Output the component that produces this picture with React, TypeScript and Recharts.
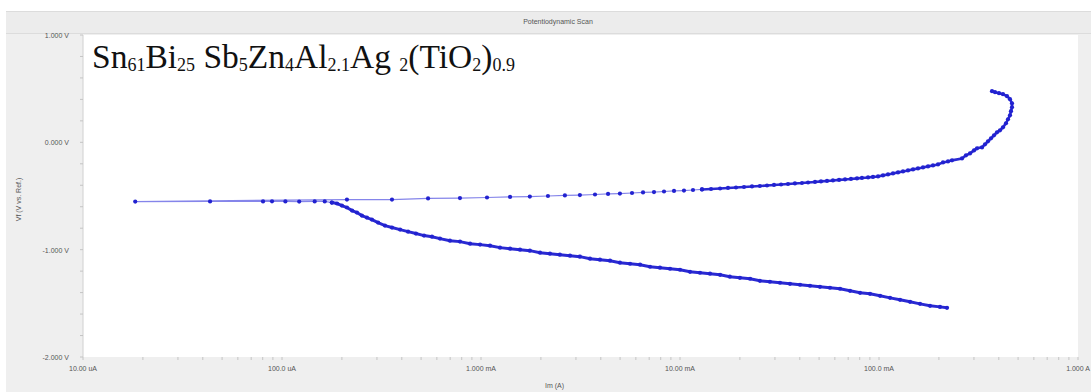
import React from 'react';
import { ScatterChart, Scatter, XAxis, YAxis, CartesianGrid } from 'recharts';

// cathodic branch, in scan order (high current -> Ecorr)
const cathodicCurrent = [
  0.2197, 0.2025, 0.1804, 0.1607, 0.1432, 0.1275, 0.1136, 0.1012, 0.0901, 0.0803,
  0.0715, 0.0637, 0.0567, 0.0505, 0.045, 0.0401, 0.0357, 0.0318, 0.0283, 0.0252,
  0.0225, 0.02, 0.0178, 0.0159, 0.01415, 0.0126, 0.01123, 0.01, 0.00891, 0.00793,
  0.00707, 0.0063, 0.00561, 0.00499, 0.00445, 0.00396, 0.00353, 0.00314, 0.0028, 0.00249,
  0.00222, 0.00198, 0.00176, 0.00157, 0.0014, 0.001246, 0.00111, 0.000989, 0.000881, 0.000784,
  0.000698, 0.000622, 0.000567, 0.000517, 0.000471, 0.00043, 0.000392, 0.000357, 0.000329, 0.000304,
  0.000283, 0.000267, 0.000252, 0.000238, 0.000225, 0.000212, 0.0002, 0.000189, 0.000178, 0.000164,
  0.000146, 0.000122, 0.000104, 0.0000891, 0.0000803, 0.0000435, 0.0000183,
];
const cathodicPotential = [
  -1.542, -1.533, -1.523, -1.505, -1.486, -1.467, -1.449, -1.43, -1.411, -1.402,
  -1.383, -1.364, -1.355, -1.346, -1.336, -1.327, -1.318, -1.308, -1.299, -1.29,
  -1.271, -1.262, -1.252, -1.234, -1.224, -1.215, -1.206, -1.187, -1.178, -1.168,
  -1.159, -1.14, -1.131, -1.121, -1.103, -1.093, -1.084, -1.065, -1.056, -1.047,
  -1.037, -1.028, -1.009, -1.0, -0.991, -0.981, -0.963, -0.953, -0.944, -0.925,
  -0.916, -0.897, -0.879, -0.869, -0.85, -0.832, -0.813, -0.794, -0.776, -0.748,
  -0.72, -0.701, -0.682, -0.654, -0.636, -0.607, -0.589, -0.57, -0.561, -0.551,
  -0.551, -0.552, -0.551, -0.55, -0.551, -0.551, -0.552,
];

// anodic branch (Ecorr -> top of scan)
const anodicCurrent = [
  0.000212, 0.000357, 0.000542, 0.000784, 0.001072, 0.0014, 0.00176, 0.00217, 0.00264, 0.00314,
  0.00374, 0.00435, 0.00499, 0.00574, 0.00652, 0.0074, 0.00831, 0.00933, 0.01047, 0.01162,
  0.0129, 0.01432, 0.0159, 0.01743, 0.01912, 0.02097, 0.023, 0.0252, 0.02736, 0.02968,
  0.0322, 0.0349, 0.0378, 0.041, 0.044, 0.0477, 0.0511, 0.0548, 0.0587, 0.063,
  0.0675, 0.0723, 0.0775, 0.0821, 0.0881, 0.0933, 0.0989, 0.1047, 0.111, 0.1176,
  0.1246, 0.132, 0.1399, 0.1482, 0.157, 0.1664, 0.1763, 0.1868, 0.1979, 0.2097,
  0.2222, 0.2327, 0.2613, 0.2736, 0.2867, 0.3002, 0.3109, 0.3294, 0.341, 0.353,
  0.3655, 0.3784, 0.3917, 0.4055, 0.4198, 0.4346, 0.4448, 0.4552, 0.4605, 0.4659,
  0.4659, 0.4552, 0.4397, 0.4198, 0.4009, 0.3828, 0.3697,
];
const anodicPotential = [
  -0.533, -0.533, -0.523, -0.519, -0.514, -0.509, -0.505, -0.5, -0.495, -0.491,
  -0.486, -0.481, -0.477, -0.472, -0.467, -0.463, -0.458, -0.453, -0.449, -0.444,
  -0.439, -0.435, -0.43, -0.425, -0.421, -0.416, -0.411, -0.407, -0.402, -0.397,
  -0.393, -0.388, -0.383, -0.379, -0.374, -0.369, -0.364, -0.36, -0.355, -0.35,
  -0.346, -0.341, -0.336, -0.332, -0.327, -0.322, -0.318, -0.308, -0.299, -0.29,
  -0.28, -0.271, -0.262, -0.252, -0.243, -0.234, -0.224, -0.215, -0.206, -0.187,
  -0.178, -0.168, -0.15, -0.121, -0.103, -0.075, -0.056, -0.047, -0.019, 0.009,
  0.037, 0.065, 0.093, 0.112, 0.14, 0.178, 0.215, 0.252, 0.29, 0.327,
  0.364, 0.402, 0.43, 0.449, 0.458, 0.467, 0.477,
];

const xDecades = [1e-5, 1e-4, 1e-3, 1e-2, 1e-1, 1];
const xDecadeLabels = ['10.00 uA', '100.0 uA', '1.000 mA', '10.00 mA', '100.0 mA', '1.000 A'];
const yTicks = [-2, -1.8, -1.6, -1.4, -1.2, -1, -0.8, -0.6, -0.4, -0.2, 0, 0.2, 0.4, 0.6, 0.8, 1];
const yMajor = [-2, -1, 0, 1];
const yMajorLabels = ['-2.000 V', '-1.000 V', '0.000 V', '1.000 V'];

const cathodic = cathodicCurrent.map((i, k) => ({ i, v: cathodicPotential[k] }));
const anodic = anodicCurrent.map((i, k) => ({ i, v: anodicPotential[k] }));

// where the scan samples sit close together the trace reads as a solid stroke
const cathodicSteep = cathodic.slice(0, 69);
const nearEcorr = [...cathodic.slice(68), ...anodic.slice(0, 21)];
const anodicDense = anodic.slice(20);

// minor log ticks (2..9 in each decade)
const xTicks: number[] = [];
xDecades.forEach((d, k) => {
  xTicks.push(d);
  if (k < xDecades.length - 1) {
    for (let m = 2; m <= 9; m++) xTicks.push(d * m);
  }
});

const fmtX = (v: number) => {
  const k = xDecades.findIndex((d) => Math.abs(d - v) / d < 1e-6);
  return k >= 0 ? xDecadeLabels[k] : '';
};
const fmtY = (v: number) => {
  const k = yMajor.findIndex((d) => Math.abs(d - v) < 1e-6);
  return k >= 0 ? yMajorLabels[k] : '';
};

const font = 'Liberation Sans, Arial, sans-serif';

const XTick = (props: any) => {
  const { x, y, payload } = props;
  const s = fmtX(payload.value);
  if (!s) return null;
  return (
    <text x={x} y={y + 9} textAnchor="middle" fontSize={7} fill="#555" fontFamily={font}>
      {s}
    </text>
  );
};
const YTick = (props: any) => {
  const { x, y, payload } = props;
  const s = fmtY(payload.value);
  if (!s) return null;
  return (
    <text x={x - 2} y={y + 3} textAnchor="end" fontSize={7} fill="#555" fontFamily={font}>
      {s}
    </text>
  );
};

const Dot = (props: any) => {
  if (props.cx == null || props.cy == null) return null;
  return <circle cx={props.cx} cy={props.cy} r={2.1} fill="#2222d0" />;
};

const sub = { fontSize: 18, position: 'relative' as const, top: 3 };

export default function App() {
  return (
    <div style={{ position: 'absolute', left: 0, top: 0, width: 1091, height: 392, background: '#fff', overflow: 'hidden' }}>
      <div style={{ position: 'absolute', left: 6, top: 11, width: 1085, height: 381, background: '#efefef' }} />
      <div
        style={{
          position: 'absolute', left: 6, top: 11, width: 1085, height: 21,
          background: '#ececec', borderTop: '1px solid #dcdcdc', borderBottom: '1px solid #dcdcdc',
        }}
      />
      <div
        style={{
          position: 'absolute', left: 458, top: 18, width: 200, textAlign: 'center',
          fontSize: 7, color: '#555', fontFamily: font,
        }}
      >
        Potentiodynamic Scan
      </div>
      <div style={{ position: 'absolute', left: 0, top: 0 }}>
        <ScatterChart width={1091} height={392} margin={{ top: 35, right: 13, bottom: 10, left: 28 }}>
          <CartesianGrid fill="#fff" horizontal={false} vertical={false} stroke="none" />
          <XAxis
            type="number"
            dataKey="i"
            scale="log"
            domain={[1e-5, 1]}
            ticks={xTicks}
            interval={0}
            tick={<XTick />}
            tickSize={3}
            tickLine={{ stroke: '#c4c4c4' }}
            axisLine={false}
            height={25}
            allowDataOverflow
          />
          <YAxis
            type="number"
            dataKey="v"
            domain={[-2, 1]}
            ticks={yTicks}
            interval={0}
            tick={<YTick />}
            tickSize={3}
            tickMargin={9}
            tickLine={{ stroke: '#c4c4c4' }}
            axisLine={{ stroke: '#d0d0d0' }}
            width={55}
            allowDataOverflow
          />
          <Scatter
            data={nearEcorr}
            line={{ stroke: '#8585ea', strokeWidth: 1.2 }}
            lineType="joint"
            shape={<Dot />}
            isAnimationActive={false}
          />
          <Scatter
            data={cathodicSteep}
            line={{ stroke: '#2a2ad2', strokeWidth: 3 }}
            lineType="joint"
            shape={<Dot />}
            isAnimationActive={false}
          />
          <Scatter
            data={anodicDense}
            line={{ stroke: '#2a2ad2', strokeWidth: 2.6 }}
            lineType="joint"
            shape={<Dot />}
            isAnimationActive={false}
          />
        </ScatterChart>
      </div>
      <div
        style={{
          position: 'absolute', left: -32, top: 196, width: 100, textAlign: 'center',
          transform: 'rotate(-90deg)', fontSize: 7, color: '#555', fontFamily: font,
        }}
      >
        Vf (V vs. Ref.)
      </div>
      <div style={{ position: 'absolute', left: 545, top: 382, fontSize: 7, color: '#555', fontFamily: font }}>
        Im (A)
      </div>
      <div
        style={{
          position: 'absolute', left: 92, top: 40, fontSize: 33.5, lineHeight: '33px',
          fontFamily: '"Liberation Serif", "Times New Roman", serif', color: '#111', whiteSpace: 'nowrap',
        }}
      >
        Sn<span style={sub}>61</span>Bi<span style={sub}>25</span> Sb<span style={sub}>5</span>Zn
        <span style={sub}>4</span>Al<span style={sub}>2.1</span>Ag <span style={sub}>2</span>(TiO
        <span style={sub}>2</span>)<span style={sub}>0.9</span>
      </div>
    </div>
  );
}
